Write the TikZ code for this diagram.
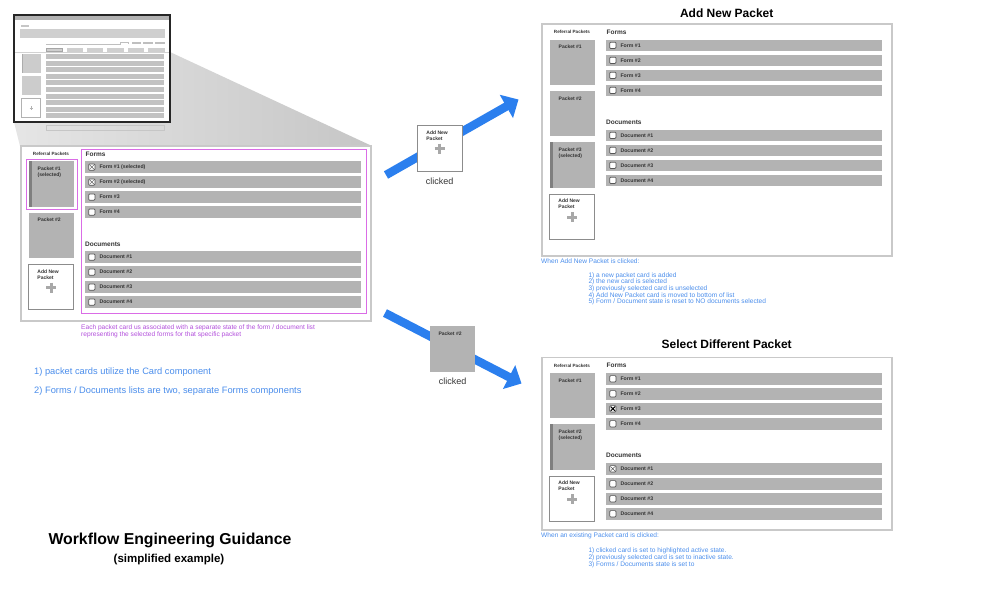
\documentclass[tikz,border=0pt]{standalone}
\usepackage{fontspec}
\setmainfont{Liberation Sans}
\usetikzlibrary{arrows.meta,positioning,calc}

\definecolor{rowgray}{HTML}{B3B3B3}
\definecolor{stripgray}{HTML}{7F7F7F}
\definecolor{framegray}{HTML}{C9C9C9}
\definecolor{textgray}{HTML}{333333}
\definecolor{boxgray}{HTML}{555555}
\definecolor{plusgray}{HTML}{A8A8A8}
\definecolor{cardedge}{HTML}{8C8C8C}
\definecolor{hl}{HTML}{DA6CE6}
\definecolor{capt}{HTML}{B24FDB}
\definecolor{noteblue}{HTML}{4A8DEB}
\definecolor{arrowblue}{HTML}{2B7FEE}

% frame, headings and form / document rows of one list panel
\newcommand{\listpanel}[5]{%
  \begin{scope}[shift={(#2,#3)}]
    \node[panel, minimum height=#4] (#1) at (0,0) {};
    \node[refhd] (#1-ref) at (31,9) {Referral Packets};
    \node[hd] (#1-forms) at (65.5,9) {Forms};
    \node[hd] (#1-docs) at (65,99) {Documents};
    \foreach \i/\t in {#5} {
      \node[row] (#1-f\i) at (65,{16+15*(\i-1)}) {};
      \node[chk, right=3.3pt of #1-f\i.west] (#1-fc\i) {};
      \node[rowtxt, right=4pt of #1-fc\i] (#1-ft\i) {\t};
    }
    \foreach \i in {1,...,4} {
      \node[row] (#1-d\i) at (65,{106+15*(\i-1)}) {};
      \node[chk, right=3.3pt of #1-d\i.west] (#1-dc\i) {};
      \node[rowtxt, right=4pt of #1-dc\i] (#1-dt\i) {Document \#\i};
    }
  \end{scope}}

\newcommand{\addplus}[1]{%
  \draw[plusln] ($(#1.center)+(-5,0.5)$) -- +(10,0)
                ($(#1.center)+(0,-4.5)$) -- +(0,10);}

\newcommand{\tickbox}[2]{%
  \draw[#1] ($(#2.north west)!0.2!(#2.south east)$) -- ($(#2.north west)!0.8!(#2.south east)$)
            ($(#2.north east)!0.2!(#2.south west)$) -- ($(#2.north east)!0.8!(#2.south west)$);}

\begin{document}
\begin{tikzpicture}[x=1pt, y=-1pt,
    panel/.style={draw=framegray, line width=1.5pt, fill=white, anchor=north west,
        minimum width=350pt, inner sep=0pt},
    row/.style={fill=rowgray, anchor=north west, minimum width=275.7pt,
        minimum height=11.7pt, inner sep=0pt},
    chk/.style={draw=boxgray, fill=white, rounded corners=1pt, line width=0.7pt,
        minimum size=6.3pt, inner sep=0pt},
    rowtxt/.style={font=\fontsize{5.2}{6}\selectfont\bfseries, text=textgray, inner sep=0pt},
    hd/.style={font=\fontsize{6.5}{7}\selectfont\bfseries, text=textgray, anchor=west, inner sep=0pt},
    refhd/.style={font=\fontsize{4.6}{5}\selectfont\bfseries, text=textgray, inner sep=0pt},
    card/.style={fill=rowgray, anchor=north west, minimum width=45pt,
        minimum height=45.5pt, inner sep=0pt},
    selcard/.style={card, path picture={\fill[stripgray] (path picture bounding box.north west)
        rectangle ([xshift=3.5pt]path picture bounding box.south west);}},
    addcard/.style={card, fill=white, draw=cardedge, line width=0.9pt},
    cardtxt/.style={font=\fontsize{5}{6}\selectfont\bfseries, text=textgray, align=left, inner sep=0pt},
    plusln/.style={draw=plusgray, line width=2.6pt},
    lightx/.style={draw=gray!70!black, line width=0.5pt},
    darkx/.style={draw=black, line width=1pt},
    hilite/.style={draw=hl, line width=1pt},
    note/.style={font=\fontsize{6.6}{6.6}\selectfont, text=noteblue, align=left, inner sep=0pt},
    ttl/.style={font=\fontsize{12}{14}\selectfont\bfseries, text=black},
    clicktxt/.style={font=\fontsize{9}{10}\selectfont, text=textgray, inner sep=0pt},
    bigarrow/.style={draw=arrowblue, line width=8.5pt, -{Triangle[length=14pt, width=26pt]}}
]
\useasboundingbox (0,0) rectangle (1000,595);

% zoom projection
\shade[left color=gray!20, right color=gray!45]
    (14,52) -- (170,52) -- (372,146) -- (20,146) -- (14,122) -- cycle;

% thumbnail
\fill[white] (14,15) rectangle (170,122);
\fill[gray!60] (14,15) rectangle (170,20);
\fill[gray!45] (21,25) rectangle (29,26.6);
\fill[gray!38] (20,29.3) rectangle (165,38.3);
\draw[gray!50, line width=0.5pt] (46,44.3) -- (120,44.3) -- (120,41.8) -- (128.5,41.8) -- (128.5,44.3);
\foreach \x in {131.7,143.3,155} \fill[gray!50] (\x,41.7) rectangle ++(9.5,2.6);
\foreach \x in {46,66.7,86.7,107.3,127.7,148.3} \fill[gray!38] (\x,48.3) rectangle ++(16.2,3.4);
\draw[gray!70, line width=0.5pt] (46,48.3) rectangle ++(16.2,3.4);
\draw[gray!35, line width=0.5pt] (14,52.6) -- (170,52.6);
\fill[gray!40] (21.7,54) rectangle (40.7,73.3);
\fill[gray!65] (21.7,54) rectangle (23,73.3);
\fill[gray!40] (21.7,76) rectangle (40.7,95);
\draw[gray!60, line width=0.6pt] (21.7,98.3) rectangle (40.7,117.3);
\draw[gray!60, line width=0.6pt] (29.6,107.8) -- (33,107.8) (31.3,106.1) -- (31.3,109.5);
\foreach \y in {0,...,9} \fill[gray!48] (46,{54+6.6*\y}) rectangle ++(118,5);
\draw[black!85, line width=1.5pt] (14,15) rectangle (170,122);
\draw[gray!45, line width=0.5pt] (46,125) rectangle (164,130.7);

% panels
\listpanel{l}{20}{145}{175}{1/{Form \#1 (selected)}, 2/{Form \#2 (selected)}, 3/{Form \#3}, 4/{Form \#4}}
\listpanel{a}{541}{23.3}{231.7}{1/{Form \#1}, 2/{Form \#2}, 3/{Form \#3}, 4/{Form \#4}}
\listpanel{s}{541}{356.7}{172.6}{1/{Form \#1}, 2/{Form \#2}, 3/{Form \#3}, 4/{Form \#4}}

% cards, current state
\node[selcard] (l-p1) at (28.5,161) {};
\node[card, below=5.5pt of l-p1] (l-p2) {};
\node[addcard, below=5.5pt of l-p2] (l-add) {};
\node[cardtxt, below right=5.5pt and 9pt of l-p1.north west] (l-p1-t) {Packet \#1\\(selected)};
\node[cardtxt, below right=5.5pt and 9pt of l-p2.north west] (l-p2-t) {Packet \#2};
\node[cardtxt, below right=5.5pt and 9pt of l-add.north west] (l-add-t) {Add New\\Packet};
\addplus{l-add}
\tickbox{lightx}{l-fc1}
\tickbox{lightx}{l-fc2}
\draw[hilite] ($(l-p1.north west)+(-1.8,-2)$) rectangle ($(l-p1.south east)+(3.8,2.5)$);
\draw[hilite] ($(l-f1.north west)+(-4,-11.7)$) rectangle ($(l-d4.south east)+(5,5.6)$);
\node[note, text=capt, font=\fontsize{6.6}{6.4}\selectfont, anchor=north west] (l-capt) at (81,325)
    {Each packet card us associated with a separate state of the form / document list\\
     representing the selected forms for that specific packet};

% cards, add new packet
\node[ttl] (a-title) at (726.7,13.3) {Add New Packet};
\node[card] (a-p1) at (549.5,39.3) {};
\node[card, below=5.5pt of a-p1] (a-p2) {};
\node[selcard, below=5.5pt of a-p2] (a-p3) {};
\node[addcard, below=5.5pt of a-p3] (a-add) {};
\node[cardtxt, below right=5.5pt and 9pt of a-p1.north west] (a-p1-t) {Packet \#1};
\node[cardtxt, below right=5.5pt and 9pt of a-p2.north west] (a-p2-t) {Packet \#2};
\node[cardtxt, below right=5.5pt and 9pt of a-p3.north west] (a-p3-t) {Packet \#3\\(selected)};
\node[cardtxt, below right=5.5pt and 9pt of a-add.north west] (a-add-t) {Add New\\Packet};
\addplus{a-add}
\node[note, anchor=west] (a-note) at (541,261) {When Add New Packet is clicked:};
\node[note, anchor=north west] (a-steps) at (588.3,272.3)
    {1) a new packet card is added\\
     2) the new card is selected\\
     3) previously selected card is unselected\\
     4) Add New Packet card is moved to bottom of list\\
     5) Form / Document state is reset to NO documents selected};

% cards, select different packet
\node[ttl] (s-title) at (726.7,344) {Select Different Packet};
\node[card] (s-p1) at (549.5,372.7) {};
\node[selcard, below=5.5pt of s-p1] (s-p2) {};
\node[addcard, below=5.5pt of s-p2] (s-add) {};
\node[cardtxt, below right=5.5pt and 9pt of s-p1.north west] (s-p1-t) {Packet \#1};
\node[cardtxt, below right=5.5pt and 9pt of s-p2.north west] (s-p2-t) {Packet \#2\\(selected)};
\node[cardtxt, below right=5.5pt and 9pt of s-add.north west] (s-add-t) {Add New\\Packet};
\addplus{s-add}
\tickbox{darkx}{s-fc3}
\tickbox{lightx}{s-dc1}
\node[note, anchor=west] (s-note) at (541,535.3) {When an existing Packet card is clicked:};
\node[note, font=\fontsize{6.6}{5.7}\selectfont, anchor=north west] (s-steps) at (588.3,547.6)
    {1) clicked card is set to highlighted active state.\\
     2) previously selected card is set to inactive state.\\
     3) Forms / Documents state is set to};

% transitions
\coordinate (a-from) at (386,175);
\coordinate (a-to) at (518.5,99.5);
\coordinate (s-from) at (385,313);
\coordinate (s-to) at (521.5,383.5);
\draw[bigarrow] (a-from) -- (a-to);
\draw[bigarrow] (s-from) -- (s-to);
\node[addcard] (clk-add) at (416.7,125) {};
\node[cardtxt, below right=5.5pt and 9.5pt of clk-add.north west] (clk-add-t) {Add New\\Packet};
\addplus{clk-add}
\node[clicktxt, below=6pt of clk-add] (clk-add-l) {clicked};
\node[card] (clk-p2) at (430,326) {};
\node[cardtxt, below right=5.5pt and 8.3pt of clk-p2.north west] (clk-p2-t) {Packet \#2};
\node[clicktxt, below=6pt of clk-p2] (clk-p2-l) {clicked};

% notes
\node[anchor=west, font=\fontsize{9.3}{11}\selectfont, text=noteblue] (n1) at (30.7,371.7)
    {1) packet cards utilize the Card component};
\node[anchor=west, font=\fontsize{9.3}{11}\selectfont, text=noteblue] (n2) at (30.7,391.3)
    {2) Forms / Documents lists are two, separate Forms components};
\node[font=\fontsize{15.8}{18}\selectfont\bfseries] (wf-title) at (170,540) {Workflow Engineering Guidance};
\node[font=\fontsize{11.5}{13}\selectfont\bfseries] (wf-sub) at (169,560) {(simplified example)};
\end{tikzpicture}
\end{document}
